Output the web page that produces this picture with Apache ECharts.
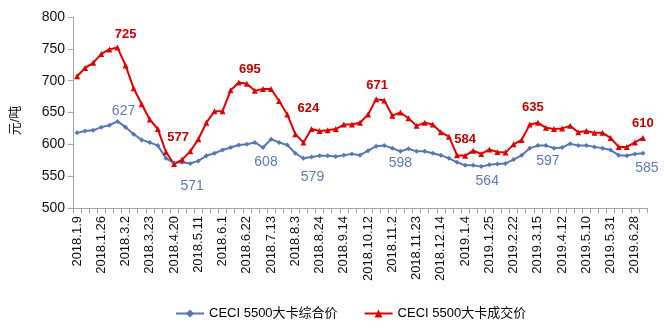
<!DOCTYPE html>
<html>
<head>
<meta charset="utf-8">
<script src="https://cdn.jsdelivr.net/npm/echarts@6/dist/echarts.min.js"></script>
<style>
html,body{margin:0;padding:0;background:#fff;}
#chart{width:666px;height:328px;}
</style>
</head>
<body>
<div id="chart"></div>
<script>
// ---- data ----
var categories = [
  '2018.1.9','2018.1.12','2018.1.19','2018.1.26','2018.2.2','2018.2.9','2018.3.2','2018.3.9','2018.3.16','2018.3.23',
  '2018.3.30','2018.4.13','2018.4.20','2018.4.27','2018.5.4','2018.5.11','2018.5.18','2018.5.25','2018.6.1','2018.6.8',
  '2018.6.15','2018.6.22','2018.6.29','2018.7.6','2018.7.13','2018.7.20','2018.7.27','2018.8.3','2018.8.10','2018.8.17',
  '2018.8.24','2018.8.31','2018.9.7','2018.9.14','2018.9.21','2018.9.28','2018.10.12','2018.10.19','2018.10.26','2018.11.2',
  '2018.11.9','2018.11.16','2018.11.23','2018.11.30','2018.12.7','2018.12.14','2018.12.21','2018.12.28','2019.1.4','2019.1.11',
  '2019.1.18','2019.1.25','2019.2.1','2019.2.15','2019.2.22','2019.3.1','2019.3.8','2019.3.15','2019.3.22','2019.3.29',
  '2019.4.12','2019.4.19','2019.4.26','2019.5.10','2019.5.17','2019.5.24','2019.5.31','2019.6.14','2019.6.21','2019.6.28',
  '2019.7.5'
];
var compositePrice = [
  618,621,622,627,630,636,627,616,607,603,
  598,578,571,572,570,574,582,586,591,595,
  599,600,603,595,608,603,599,586,578,580,
  582,582,581,583,585,583,590,597,598,594,
  589,593,589,589,586,583,578,572,567,567,
  565,568,569,570,576,583,594,598,598,594,
  595,601,598,598,596,594,591,583,582,585,
  586
];
var dealPrice = [
  707,720,728,742,749,752,724,688,663,639,
  624,588,569,576,589,608,634,652,652,685,
  697,695,684,687,687,668,647,616,603,624,
  621,622,624,631,631,634,647,671,669,645,
  650,641,629,634,631,619,612,583,582,590,
  585,592,588,587,600,607,631,634,626,624,
  625,629,619,621,618,618,610,596,596,603,
  610
];
var seriesNames = ['CECI 5500大卡综合价', 'CECI 5500大卡成交价'];
// annotation texts attached to points
var compositeNoteIdx = [6, 14, 23, 29, 40, 50, 58, 70];
var compositeNoteText = ['627', '571', '608', '579', '598', '564', '597', '585'];
var dealNoteIdx = [6, 12, 21, 28, 37, 48, 56, 70];
var dealNoteText = ['725', '577', '695', '624', '671', '584', '635', '610'];

// ---- styling (label offsets in px) ----
var compositeNoteOffset = [[-2,-16],[2,23],[3,15],[1,20],[0,12],[6,15],[2,16],[4,15]];
var dealNoteOffset = [[0,-31],[4,-27],[3,-14],[5,-34],[1,-14],[0,-16],[3,-17],[0,-15]];

var FONT = '"Liberation Sans", "Noto Sans CJK SC", sans-serif';

function buildData(values, idxs, texts, offsets, labelStyle) {
  return values.map(function (v, i) {
    var k = idxs.indexOf(i);
    if (k < 0) return v;
    return {
      value: v,
      label: Object.assign({
        show: true,
        position: 'inside',
        offset: offsets[k],
        formatter: texts[k]
      }, labelStyle)
    };
  });
}

var chart = echarts.init(document.getElementById('chart'), null, {renderer: 'canvas'});
chart.setOption({
  backgroundColor: '#ffffff',
  animation: false,
  grid: {left: 73, right: 19, top: 17, bottom: 120},
  legend: {
    left: 170,
    top: 302,
    itemWidth: 28,
    itemHeight: 10,
    itemGap: 26,
    textStyle: {fontFamily: FONT, fontSize: 13, color: '#000'},
    data: seriesNames
  },
  xAxis: {
    type: 'category',
    data: categories,
    boundaryGap: true,
    axisLine: {show: true, lineStyle: {color: '#a6a6a6', width: 1}},
    axisTick: {show: true, interval: 0, length: 5, alignWithLabel: false, lineStyle: {color: '#a6a6a6'}},
    axisLabel: {interval: 2, rotate: 90, margin: 8, fontFamily: FONT, fontSize: 13, color: '#111'},
    splitLine: {show: false}
  },
  yAxis: {
    type: 'value',
    min: 500,
    max: 800,
    interval: 50,
    name: '元/吨',
    nameLocation: 'middle',
    nameGap: 51,
    nameRotate: 90,
    nameTextStyle: {fontFamily: FONT, fontSize: 13, color: '#111', padding: [0, 16, 0, 0]},
    axisLine: {show: true, lineStyle: {color: '#a6a6a6', width: 1}},
    axisTick: {show: true, length: 5, lineStyle: {color: '#a6a6a6'}},
    axisLabel: {margin: 8, fontFamily: FONT, fontSize: 14, color: '#111'},
    splitLine: {show: false}
  },
  series: [
    {
      name: seriesNames[0],
      type: 'line',
      symbol: 'diamond',
      symbolSize: 5,
      showAllSymbol: true,
      lineStyle: {color: '#5578b4', width: 2},
      itemStyle: {color: '#5578b4'},
      label: {show: false},
      data: buildData(compositePrice, compositeNoteIdx, compositeNoteText, compositeNoteOffset,
        {fontFamily: FONT, fontSize: 14, color: '#5b7cb2', fontWeight: 'normal'})
    },
    {
      name: seriesNames[1],
      type: 'line',
      symbol: 'triangle',
      symbolSize: 6,
      showAllSymbol: true,
      lineStyle: {color: '#dd0000', width: 2},
      itemStyle: {color: '#dd0000'},
      label: {show: false},
      data: buildData(dealPrice, dealNoteIdx, dealNoteText, dealNoteOffset,
        {fontFamily: FONT, fontSize: 13, color: '#c00000', fontWeight: 'bold'})
    }
  ]
});
</script>
</body>
</html>
